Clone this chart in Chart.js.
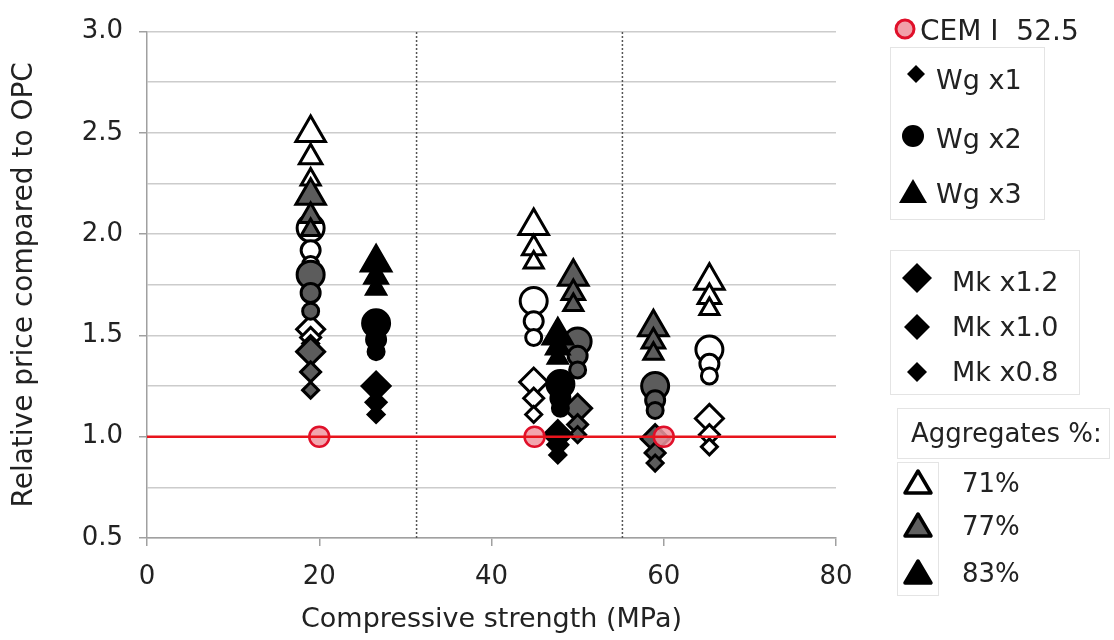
<!DOCTYPE html>
<html>
<head>
<meta charset="utf-8">
<script src="https://cdn.jsdelivr.net/npm/chart.js@4.4.0/dist/chart.umd.min.js"></script>
<style>
body { margin: 0; background: #fff; font-family: "DejaVu Sans", sans-serif; color: #222; }
#wrap { position: relative; width: 1114px; height: 640px; }
#chart { position: absolute; left: 0; top: 0; }
#marks { position: absolute; left: 0; top: 0; pointer-events: none; }
.lg { position: absolute; line-height: 1; white-space: nowrap; font-size: 27px; }
.box { position: absolute; border: 1px solid #e4e4e4; }
</style>
</head>
<body>
<div id="wrap">
  <canvas id="chart" width="1114" height="640"></canvas>

  <div class="box" style="left:890px;top:47px;width:153px;height:171px"></div>
  <div class="box" style="left:890px;top:250px;width:188px;height:143px"></div>
  <div class="box" style="left:897px;top:408px;width:211px;height:49px"></div>
  <div class="box" style="left:897px;top:462px;width:40px;height:132px"></div>

  <svg id="marks" width="1114" height="640">
    <circle cx="905" cy="29" r="9" fill="rgba(240,150,160,0.9)" stroke="#e0102a" stroke-width="3"/>
    <polygon points="907,74 916,65 925,74 916,83" fill="#000"/>
    <circle cx="913" cy="136" r="11" fill="#000"/>
    <polygon points="913,179 927,203 899,203" fill="#000"/>
    <polygon points="902,278 917,263 932,278 917,293" fill="#000"/>
    <polygon points="904,327 917,314 930,327 917,340" fill="#000"/>
    <polygon points="907,372 917,362 927,372 917,382" fill="#000"/>
    <polygon points="918,471 931,493 905,493" fill="#fff" stroke="#000" stroke-width="3.5" stroke-linejoin="round"/>
    <polygon points="918,514 931,536 905,536" fill="#606060" stroke="#000" stroke-width="3.5" stroke-linejoin="round"/>
    <polygon points="918,561 931,583 905,583" fill="#000" stroke="#000" stroke-width="3.5" stroke-linejoin="round"/>
  </svg>

  <div class="lg" style="left:920px;top:17px;font-size:28px">CEM I&nbsp; 52.5</div>
  <div class="lg" style="left:936px;top:66px">Wg x1</div>
  <div class="lg" style="left:936px;top:125px">Wg x2</div>
  <div class="lg" style="left:936px;top:180px">Wg x3</div>
  <div class="lg" style="left:952px;top:268px">Mk x1.2</div>
  <div class="lg" style="left:952px;top:313px">Mk x1.0</div>
  <div class="lg" style="left:952px;top:358px">Mk x0.8</div>
  <div class="lg" style="left:911px;top:420px;font-size:26px">Aggregates %:</div>
  <div class="lg" style="left:962px;top:470px;font-size:26px">71%</div>
  <div class="lg" style="left:962px;top:513px;font-size:26px">77%</div>
  <div class="lg" style="left:962px;top:560px;font-size:26px">83%</div>
</div>

<script>
// reference cement
const cemStrength = [20, 45, 60];
const cemPrice = [1.0, 1.0, 1.0];
const opcLevel = 1.0;
const dividerStrength = [31.3, 55.2];

// each price triplet is Mk x1.2, Mk x1.0, Mk x0.8
const mkLevels = ['Mk x1.2', 'Mk x1.0', 'Mk x0.8'];

// Wg x1 (diamonds)
const wg1Agg71Strength = [19.0, 44.9, 65.3];
const wg1Agg71Price = [[1.53, 1.49, 1.46], [1.27, 1.19, 1.11], [1.09, 1.01, 0.95]];
const wg1Agg77Strength = [19.0, 50.0, 59.0];
const wg1Agg77Price = [[1.42, 1.32, 1.23], [1.14, 1.06, 1.01], [0.99, 0.92, 0.87]];
const wg1Agg83Strength = [26.6, 47.7];
const wg1Agg83Price = [[1.25, 1.17, 1.11], [1.01, 0.96, 0.91]];

// Wg x2 (circles)
const wg2Agg71Strength = [19.0, 44.9, 65.3];
const wg2Agg71Price = [[2.03, 1.92, 1.85], [1.67, 1.57, 1.49], [1.43, 1.36, 1.30]];
const wg2Agg77Strength = [19.0, 50.0, 59.0];
const wg2Agg77Price = [[1.80, 1.71, 1.62], [1.47, 1.40, 1.33], [1.25, 1.18, 1.13]];
const wg2Agg83Strength = [26.6, 48.0];
const wg2Agg83Price = [[1.56, 1.48, 1.42], [1.26, 1.19, 1.14]];

// Wg x3 (triangles)
const wg3Agg71Strength = [19.0, 44.9, 65.3];
const wg3Agg71Price = [[2.50, 2.38, 2.27], [2.04, 1.93, 1.86], [1.77, 1.69, 1.63]];
const wg3Agg77Strength = [19.0, 49.5, 58.8];
const wg3Agg77Price = [[2.19, 2.09, 2.02], [1.79, 1.71, 1.65], [1.54, 1.47, 1.41]];
const wg3Agg83Strength = [26.6, 47.7];
const wg3Agg83Price = [[1.86, 1.79, 1.73], [1.50, 1.44, 1.39]];

const series = [
    { wg: 'Wg x1', agg: '71%', strength: wg1Agg71Strength, price: wg1Agg71Price },
    { wg: 'Wg x1', agg: '77%', strength: wg1Agg77Strength, price: wg1Agg77Price },
    { wg: 'Wg x1', agg: '83%', strength: wg1Agg83Strength, price: wg1Agg83Price },
    { wg: 'Wg x2', agg: '71%', strength: wg2Agg71Strength, price: wg2Agg71Price },
    { wg: 'Wg x2', agg: '77%', strength: wg2Agg77Strength, price: wg2Agg77Price },
    { wg: 'Wg x2', agg: '83%', strength: wg2Agg83Strength, price: wg2Agg83Price },
    { wg: 'Wg x3', agg: '71%', strength: wg3Agg71Strength, price: wg3Agg71Price },
    { wg: 'Wg x3', agg: '77%', strength: wg3Agg77Strength, price: wg3Agg77Price },
    { wg: 'Wg x3', agg: '83%', strength: wg3Agg83Strength, price: wg3Agg83Price }
];

const shapes = { 'Wg x1': 'rectRot', 'Wg x2': 'circle', 'Wg x3': 'triangle' };
const fills = { '71%': '#ffffff', '77%': '#5c5c5c', '83%': '#000000' };
const sizes = { rectRot: [14, 10, 8], circle: [13.5, 9.5, 8], triangle: [17, 13, 11] };

const datasets = [];

dividerStrength.forEach(function(x) {
    datasets.push({
        label: 'divider',
        data: [{ x: x, y: 0.5 }, { x: x, y: 3.0 }],
        showLine: true,
        borderColor: '#555',
        borderWidth: 1.5,
        borderDash: [2, 2],
        pointRadius: 0,
        order: 300
    });
});

series.forEach(function(s, idx) {
    const pts = [];
    s.strength.forEach(function(x, i) {
        s.price[i].forEach(function(y, j) {
            pts.push({ x: x, y: y, mk: j });
        });
    });
    const style = shapes[s.wg];
    datasets.push({
        label: s.wg + ' ' + s.agg,
        data: pts,
        pointStyle: style,
        pointRadius: function(ctx) { return sizes[style][ctx.raw ? ctx.raw.mk : 0]; },
        pointBackgroundColor: fills[s.agg],
        pointBorderColor: '#000',
        pointBorderWidth: 3,
        order: 100 - idx
    });
});

datasets.push({
    label: 'CEM I 52.5',
    data: cemStrength.map(function(x, i) { return { x: x, y: cemPrice[i] }; }),
    pointStyle: 'circle',
    pointRadius: 10,
    pointBackgroundColor: 'rgba(240,150,160,0.85)',
    pointBorderColor: '#e0102a',
    pointBorderWidth: 2.5,
    order: 1
});

datasets.push({
    label: 'OPC',
    data: [{ x: 0, y: opcLevel }, { x: 80, y: opcLevel }],
    showLine: true,
    borderColor: '#e8141c',
    borderWidth: 2.5,
    pointRadius: 0,
    order: 0
});

const tickFont = { family: 'DejaVu Sans', size: 26 };

const chart = new Chart(document.getElementById('chart'), {
    type: 'scatter',
    data: { datasets: datasets },
    options: {
        responsive: false,
        animation: false,
        layout: { padding: { left: 0, right: 278, top: 22, bottom: 0 } },
        plugins: { legend: { display: false }, tooltip: { enabled: false } },
        scales: {
            x: {
                type: 'linear',
                min: 0,
                max: 80,
                ticks: { stepSize: 20, font: tickFont, color: '#222', padding: 16 },
                grid: { drawOnChartArea: false, tickLength: 8, color: '#a0a0a0', lineWidth: 1.5 },
                border: { color: '#a0a0a0', width: 1.5 },
                title: {
                    display: true,
                    text: 'Compressive strength (MPa)',
                    font: { family: 'DejaVu Sans', size: 27 },
                    color: '#222',
                    padding: { top: 0, bottom: 4 }
                },
                afterFit: function(axis) { axis.height = 102; }
            },
            y: {
                min: 0.5,
                max: 3.0,
                ticks: {
                    stepSize: 0.25,
                    autoSkip: false,
                    font: tickFont,
                    color: '#222',
                    padding: 16,
                    callback: function(v) { return Math.round(v * 100) % 50 === 0 ? v.toFixed(1) : ''; }
                },
                grid: {
                    color: '#cccccc',
                    lineWidth: 1.5,
                    tickLength: 8,
                    tickColor: function(ctx) {
                        return ctx.tick && Math.round(ctx.tick.value * 100) % 50 === 0 ? '#a0a0a0' : 'rgba(0,0,0,0)';
                    }
                },
                border: { color: '#a0a0a0', width: 1.5 },
                title: {
                    display: true,
                    text: 'Relative price compared to OPC',
                    font: { family: 'DejaVu Sans', size: 28 },
                    color: '#222',
                    padding: { top: 8, bottom: 0 }
                },
                afterFit: function(axis) { axis.width = 147; }
            }
        }
    }
});
</script>
</body>
</html>
